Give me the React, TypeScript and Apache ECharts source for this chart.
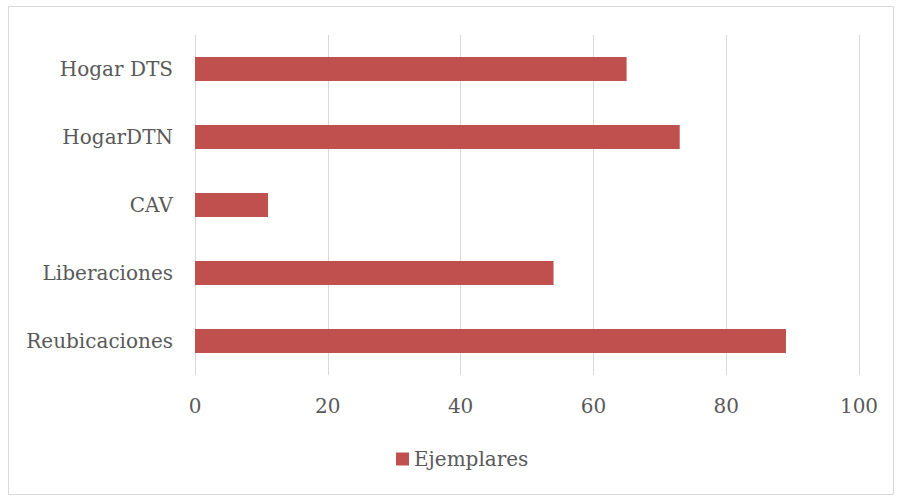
import React, { useEffect, useRef } from "react";
import * as echarts from "echarts";

const categories = ["Reubicaciones", "Liberaciones", "CAV", "HogarDTN", "Hogar DTS"];
const ejemplares = [89, 54, 11, 73, 65];
const seriesName = "Ejemplares";

const FONT = "DejaVu Serif";
const TEXT = "#595959";

export default function App() {
  const ref = useRef<HTMLDivElement>(null);
  useEffect(() => {
    document.body.style.margin = "0";
    const chart = echarts.init(ref.current!, undefined, { renderer: "svg" });
    chart.setOption({
      animation: false,
      backgroundColor: "#ffffff",
      textStyle: { fontFamily: FONT, color: TEXT },
      graphic: [
        {
          type: "rect",
          shape: { x: 8.5, y: 6.5, width: 885, height: 488 },
          style: { fill: "none", stroke: "#d9d9d9", lineWidth: 1 },
          silent: true,
        },
      ],
      grid: { left: 195, right: 38, top: 35, bottom: 121, containLabel: false },
      xAxis: {
        type: "value",
        min: 0,
        max: 100,
        interval: 20,
        axisLine: { show: false },
        axisTick: { show: false },
        splitLine: { show: true, lineStyle: { color: "#d9d9d9", width: 1 } },
        axisLabel: { color: TEXT, fontFamily: FONT, fontSize: 20, margin: 21 },
      },
      yAxis: {
        type: "category",
        data: categories,
        axisLine: { show: false },
        axisTick: { show: false },
        axisLabel: { color: TEXT, fontFamily: FONT, fontSize: 20, margin: 22 },
      },
      legend: {
        top: 444,
        left: 391,
        itemWidth: 13,
        itemHeight: 13,
        itemGap: 10,
        icon: "rect",
        textStyle: { color: TEXT, fontFamily: FONT, fontSize: 20 },
        data: [seriesName],
      },
      series: [
        {
          name: seriesName,
          type: "bar",
          data: ejemplares,
          barWidth: 24,
          itemStyle: { color: "#C0504D" },
        },
      ],
    });
    return () => chart.dispose();
  }, []);
  return <div ref={ref} style={{ position: "fixed", left: 0, top: 0, width: 897, height: 496 }} />;
}
